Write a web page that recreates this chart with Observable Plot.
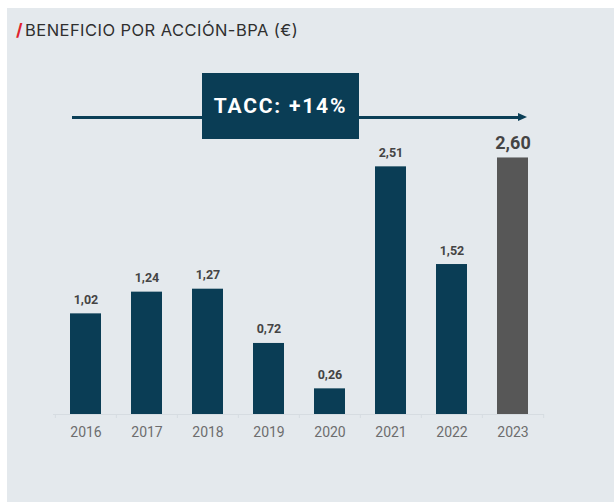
<!DOCTYPE html>
<html>
<head>
<meta charset="utf-8">
<script src="https://cdn.jsdelivr.net/npm/d3@7"></script>
<script src="https://cdn.jsdelivr.net/npm/@observablehq/plot@0.6"></script>
<style>
  html, body { margin: 0; padding: 0; background: #ffffff; }
  body { width: 614px; height: 502px; position: relative; overflow: hidden; font-family: Roboto, "Noto Sans", sans-serif; }
  #panel { position: absolute; left: 7px; top: 8px; width: 607px; height: 494px; background: #e4e9ed; }
  #title { position: absolute; left: 16px; top: 20px; font-family: Inter, Roboto, sans-serif; font-size: 16.5px; letter-spacing: 0.45px; color: #2f2f2f; white-space: nowrap; line-height: 20px; }
  #title .slash { color: #e0232e; font-weight: 700; font-size: 17px; margin-right: 2px; }
  #chart { position: absolute; left: 0; top: 0; }
  #arrowline { position: absolute; left: 72px; top: 116px; width: 448px; height: 2.5px; background: #0b3f57; }
  #arrowhead { position: absolute; left: 518px; top: 112.5px; width: 0; height: 0; border-top: 4.75px solid transparent; border-bottom: 4.75px solid transparent; border-left: 9px solid #0b3f57; }
  #box { position: absolute; left: 202px; top: 73px; width: 157px; height: 66px; background: #0a3d55; color: #fff; font-weight: 700; font-size: 21px; letter-spacing: 1.8px; display: flex; align-items: center; justify-content: center; }
</style>
</head>
<body>
<div id="panel"></div>
<div id="chart"></div>
<div id="title"><span class="slash">/</span>BENEFICIO POR ACCIÓN-BPA (€)</div>
<div id="arrowline"></div>
<div id="arrowhead"></div>
<div id="box">TACC: +14%</div>
<script>
const years = ["2016", "2017", "2018", "2019", "2020", "2021", "2022", "2023"];
const values = [1.02, 1.24, 1.27, 0.72, 0.26, 2.51, 1.52, 2.60];
const labels = ["1,02", "1,24", "1,27", "0,72", "0,26", "2,51", "1,52", "2,60"];
const highlightYear = "2023";

const data = years.map((y, i) => ({year: y, value: values[i], label: labels[i], hl: y === highlightYear}));
const regular = data.filter(d => !d.hl);
const highlight = data.filter(d => d.hl);

const width = 614, height = 450, mL = 53, mR = 70;
const step = (width - mL - mR) / years.length;

const plot = Plot.plot({
  width, height,
  marginLeft: mL, marginRight: mR, marginTop: 118, marginBottom: 36,
  style: {background: "transparent", fontFamily: "Roboto, sans-serif", overflow: "visible"},
  x: {domain: years, paddingInner: 0.5, paddingOuter: 0.25, label: null},
  y: {domain: [0, 3], axis: null},
  marks: [
    Plot.ruleY([0], {stroke: "#d6dce1", strokeWidth: 1}),
    Plot.axisX({tickSize: 4, text: null, dx: -step / 2, stroke: "#d6dce1", label: null}),
    Plot.axisX({ticks: [highlightYear], tickSize: 4, text: null, dx: step / 2, stroke: "#d6dce1", label: null}),
    Plot.axisX({tickSize: 0, tickPadding: 13, fontSize: 14, fill: "#6d6d6d", label: null}),
    Plot.barY(data, {x: "year", y: "value", fill: d => d.hl ? "#575757" : "#0a3d55"}),
    Plot.text(regular, {x: "year", y: "value", text: "label", dy: -14, fontSize: 12.5, fontWeight: 700, fill: "#444"}),
    Plot.text(highlight, {x: "year", y: "value", text: "label", dy: -15, fontSize: 18, fontWeight: 700, fill: "#444"})
  ]
});
document.getElementById("chart").appendChild(plot);
</script>
</body>
</html>
